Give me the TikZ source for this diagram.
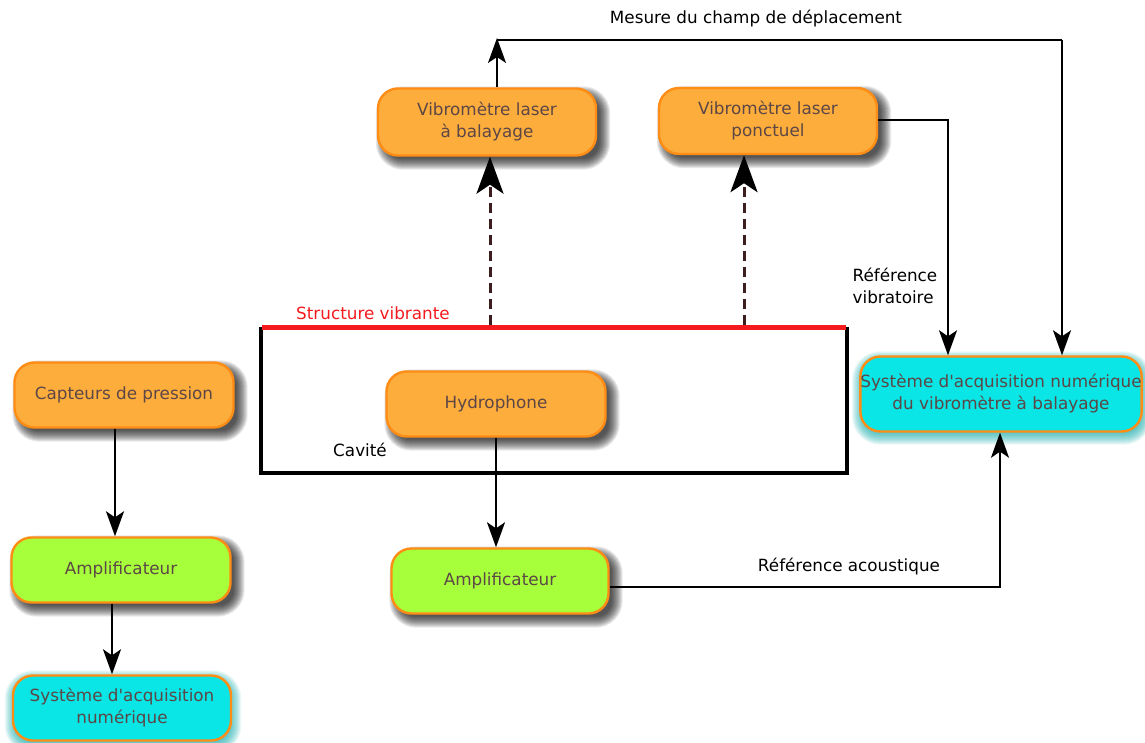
\documentclass[tikz,border=0pt]{standalone}
\usepackage{fontspec}
\newfontfamily\dv{DejaVu Sans}
\usetikzlibrary{arrows.meta,calc,backgrounds}
\definecolor{boxorange}{RGB}{253,173,60}
\definecolor{boxgreen}{RGB}{166,255,58}
\definecolor{boxcyan}{RGB}{10,229,229}
\definecolor{edgeorange}{RGB}{255,140,20}
\definecolor{txtbrown}{RGB}{92,70,70}
\definecolor{dashbrown}{RGB}{60,30,30}
\definecolor{glowteal}{RGB}{20,170,170}
\definecolor{redline}{RGB}{245,26,30}
\newcommand\mkshadow[5]{%
  \foreach \r [evaluate=\r as \rc using 20+\r] in {-4,-3,...,#5}{%
    \fill[#2, opacity=0.085, rounded corners=\rc pt]
      ($(#1.south west)+(#3-\r,#4+\r)$) rectangle ($(#1.north east)+(#3+\r,#4-\r)$);}}
\tikzset{
  base/.style={rounded corners=20pt, draw=edgeorange, line width=2.4pt, text=txtbrown,
     align=center, font=\dv\fontsize{16.8}{22}\selectfont, inner sep=0pt},
  orangebox/.style={base, fill=boxorange},
  greenbox/.style={base, fill=boxgreen},
  cyanbox/.style={base, fill=boxcyan},
  conn/.style={line width=1.8pt, -{Stealth[length=25pt,width=18pt,inset=6pt]}},
  dasharrow/.style={line width=3pt, draw=dashbrown, dash pattern=on 10pt off 6pt,
     -{Stealth[length=37pt,width=27pt,inset=9pt,color=black]}},
  lbl/.style={font=\dv\fontsize{16.8}{22}\selectfont, text=black, inner sep=0pt}
}
\begin{document}
\begin{tikzpicture}[x=1pt,y=-1pt]
\useasboundingbox (0,0) rectangle (1145,743);
% cavity
\draw[line width=4pt] (261,327) -- (261,473) -- (847,473) -- (847,327);
\draw[redline, line width=5pt] (262,327) -- (846,327);
\node[lbl, text=redline] (sv) at (373,313) {Structure vibrante};
\node[lbl] (cav) at (360,450) {Cavité};
\coordinate (s1) at (490,325);
\coordinate (s2) at (744,325);

% nodes
\node[orangebox, minimum width=218pt, minimum height=67pt] (vlb) at (487,122) {Vibromètre laser\\à balayage};
\node[orangebox, minimum width=218pt, minimum height=66pt] (vlp) at (768,121) {Vibromètre laser\\ponctuel};
\node[cyanbox, minimum width=280pt, minimum height=75pt] (sav) at (1001,394) {Système d'acquisition numérique\\du vibromètre à balayage};
\node[orangebox, minimum width=219pt, minimum height=65pt] (cp) at (124,395) {Capteurs de pression};
\node[orangebox, minimum width=219pt, minimum height=65pt] (hyd) at (496,404) {Hydrophone};
\node[greenbox, minimum width=219pt, minimum height=65pt] (amp1) at (121,570) {Amplificateur};
\node[greenbox, minimum width=217pt, minimum height=65pt] (amp2) at (500,581) {Amplificateur};
\node[cyanbox, minimum width=218pt, minimum height=65pt] (san) at (122,708) {Système d'acquisition\\numérique};

\begin{scope}[on background layer]
  \mkshadow{vlb}{black}{6}{6}{7}
  \mkshadow{vlp}{black}{6}{6}{7}
  \mkshadow{cp}{black}{6}{6}{7}
  \mkshadow{hyd}{black}{6}{6}{7}
  \mkshadow{amp1}{black}{6}{6}{7}
  \mkshadow{amp2}{black}{6}{6}{7}
  \mkshadow{sav}{glowteal}{1}{4}{8}
  \mkshadow{san}{glowteal}{1}{4}{8}
\end{scope}

% dashed arrows
\draw[dasharrow] (s1) -- (s1 |- vlb.south);
\draw[dasharrow] (s2) -- (s2 |- vlp.south);

% top measurement loop
\coordinate (t1) at (497,38);
\coordinate (t2) at (1062,40);
\draw[conn] (vlb.north -| t1) -- (t1);
\draw[line width=1.8pt] (t1 |- t2) -- (t2);
\draw[conn] (t2) -- (t2 |- sav.north);
\node[lbl] (mes) at (756,19) {Mesure du champ de déplacement};

% vibratory reference
\coordinate (r1) at (948,120);
\draw[conn] (vlp.east |- r1) -- (r1) -- (r1 |- sav.north);
\node[lbl, align=left] (rv) at (895,286) {Référence\\vibratoire};

% hydrophone chain
\coordinate (h1) at (496,437);
\draw[conn] (hyd.south -| h1) -- (h1 |- amp2.north);
\coordinate (a1) at (1000,587);
\draw[conn] (amp2.east |- a1) -- (a1) -- (a1 |- sav.south);
\node[lbl] (ra) at (849,567) {Référence acoustique};

% left chain
\coordinate (c1) at (115,428);
\draw[conn] (cp.south -| c1) -- (c1 |- amp1.north);
\coordinate (c2) at (112,603);
\draw[conn] (amp1.south -| c2) -- (c2 |- san.north);
\end{tikzpicture}
\end{document}
